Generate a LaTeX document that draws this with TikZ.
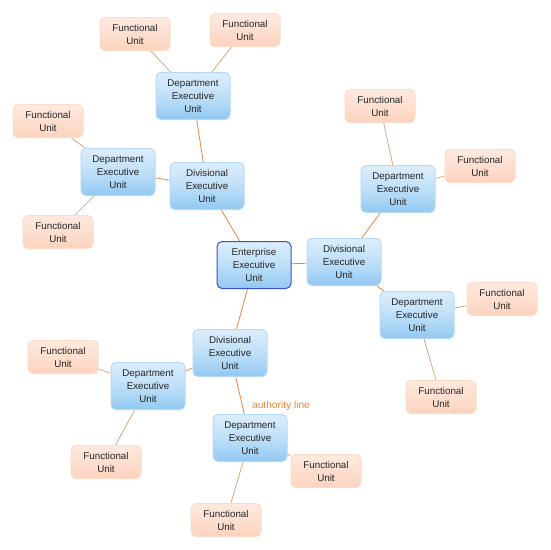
\documentclass[tikz,border=0pt]{standalone}
\usepackage{fontspec}
\setmainfont{Liberation Sans}
\usetikzlibrary{backgrounds}
\definecolor{execTop}{HTML}{DCEEFC}
\definecolor{execBot}{HTML}{92C9F2}
\definecolor{execLine}{HTML}{B4DAF5}
\definecolor{entLine}{HTML}{3A4FD8}
\definecolor{funcTop}{HTML}{FEEAE0}
\definecolor{funcBot}{HTML}{FCD3BE}
\definecolor{funcLine}{HTML}{FBDCCB}
\definecolor{authLine}{HTML}{E8843C}
\definecolor{subLine}{HTML}{D49A78}

\begin{document}
\begin{tikzpicture}[x=1pt, y=-1pt,
    execbox/.style={draw=execLine, line width=1pt, rounded corners=5pt,
      top color=execTop, bottom color=execBot, middle color=execTop!60!execBot,
      minimum width=74pt, minimum height=47pt, align=center,
      font=\fontsize{9.8}{13}\selectfont, text=black!85},
    entbox/.style={execbox, draw=entLine},
    funcbox/.style={draw=funcLine, line width=1pt, rounded corners=5pt,
      top color=funcTop, bottom color=funcBot,
      minimum width=70pt, minimum height=33pt, align=center,
      font=\fontsize{9.8}{13}\selectfont, text=black!85},
    authority/.style={draw=authLine, line width=0.8pt},
    subline/.style={draw=subLine, line width=0.7pt}]
  \useasboundingbox (0,0) rectangle (550,550);

  % executive units
  \node[entbox] (ent) at (254,265) {Enterprise\\Executive\\Unit};
  \node[execbox] (divR) at (344,262) {Divisional\\Executive\\Unit};
  \node[execbox] (divT) at (207,186) {Divisional\\Executive\\Unit};
  \node[execbox] (divB) at (230,353) {Divisional\\Executive\\Unit};
  \node[execbox] (depT) at (193,96) {Department\\Executive\\Unit};
  \node[execbox] (depL) at (118,172) {Department\\Executive\\Unit};
  \node[execbox] (depR) at (398,189) {Department\\Executive\\Unit};
  \node[execbox] (depRB) at (417,315) {Department\\Executive\\Unit};
  \node[execbox] (depBL) at (148,386) {Department\\Executive\\Unit};
  \node[execbox] (depB) at (250,438) {Department\\Executive\\Unit};

  % functional units
  \node[funcbox] (fT1) at (135,34) {Functional\\Unit};
  \node[funcbox] (fT2) at (245,30) {Functional\\Unit};
  \node[funcbox] (fL1) at (48,121) {Functional\\Unit};
  \node[funcbox] (fL2) at (58,232) {Functional\\Unit};
  \node[funcbox] (fR1) at (380,106) {Functional\\Unit};
  \node[funcbox] (fR2) at (480,166) {Functional\\Unit};
  \node[funcbox] (fRB1) at (502,299) {Functional\\Unit};
  \node[funcbox] (fRB2) at (441,397) {Functional\\Unit};
  \node[funcbox] (fBL1) at (63,357) {Functional\\Unit};
  \node[funcbox] (fBL2) at (106,462) {Functional\\Unit};
  \node[funcbox] (fB1) at (326,471) {Functional\\Unit};
  \node[funcbox] (fB2) at (226,520) {Functional\\Unit};

  \node[text=authLine, font=\fontsize{10.2}{12}\selectfont] (auth) at (281,406) {authority line};

  % connectors behind the boxes
  \begin{scope}[on background layer]
    \draw[authority] (ent) -- (divR);
    \draw[authority] (ent) -- (divT);
    \draw[authority] (ent) -- (divB);
    \draw[authority] (divT) -- (depT);
    \draw[authority] (divT) -- (depL);
    \draw[authority] (divR) -- (depR);
    \draw[authority] (divR) -- (depRB);
    \draw[authority] (divB) -- (depBL);
    \draw[authority] (divB) -- (depB);
    \draw[subline] (depT) -- (fT1);
    \draw[subline] (depT) -- (fT2);
    \draw[subline] (depL) -- (fL1);
    \draw[subline] (depL) -- (fL2);
    \draw[subline] (depR) -- (fR1);
    \draw[subline] (depR) -- (fR2);
    \draw[subline] (depRB) -- (fRB1);
    \draw[subline] (depRB) -- (fRB2);
    \draw[subline] (depBL) -- (fBL1);
    \draw[subline] (depBL) -- (fBL2);
    \draw[subline] (depB) -- (fB1);
    \draw[subline] (depB) -- (fB2);
  \end{scope}
\end{tikzpicture}
\end{document}
